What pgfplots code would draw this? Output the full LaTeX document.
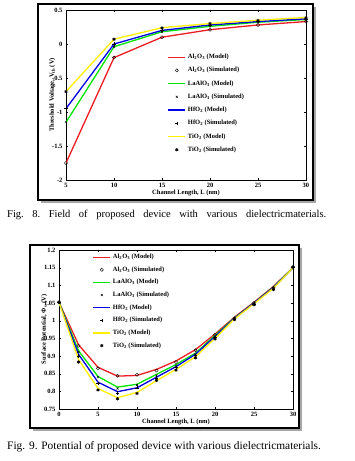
\documentclass[border=0pt]{standalone}
\usepackage{pgfplots}
\pgfplotsset{compat=1.18}
\usepackage{fontspec}
\setmainfont{Liberation Serif}
\definecolor{myred}{RGB}{237,28,36}
\definecolor{mygreen}{RGB}{0,230,0}
\definecolor{myblue}{RGB}{0,0,230}
\definecolor{myyellow}{RGB}{255,240,0}
\pgfplotsset{
  mystyle/.style={
    scale only axis, axis on top=false,
    tick align=inside, xtick pos=both, ytick pos=both,
    tick style={black, line width=0.3pt, major tick length=2pt},
    /pgf/number format/assume math mode=true,
    tick label style={font=\fontsize{6.5}{7}\selectfont\bfseries},
    label style={font=\fontsize{6.5}{7}\selectfont\bfseries},
    legend style={draw=none, fill=none, font=\fontsize{6.5}{7}\selectfont\bfseries, legend cell align=left},
  },
  model/.style={line width=1.3pt, mark=none, draw=#1, color=#1},
  simmark/.style={only marks, black, mark size=1.6pt, line width=0.4pt},
}
\begin{document}
\begin{tikzpicture}[x=1pt,y=1pt]
\path[use as bounding box] (0,0) rectangle (354,461);
% frames with shadow
\fill[black!35] (41,258) rectangle (316,454);
\draw[line width=2.5pt, fill=white] (38,261) rectangle (313,457);
\fill[black!35] (33,30) rectangle (302,213);
\draw[line width=2.5pt, fill=white] (30,33) rectangle (299,216);

\begin{axis}[mystyle, at={(66pt,281pt)}, anchor=south west, width=240pt, height=170pt,
  xmin=5, xmax=30, ymin=-2, ymax=0.5,
  xtick={5,10,15,20,25,30}, ytick={-2,-1.5,-1,-0.5,0,0.5},
  yticklabels={-2,-1.5,-1,-0.5,0,0.5},
  xlabel={Channel Length, L (nm)}, ylabel={Threshold Voltage, V\textsubscript{th} (V)},
  xlabel style={yshift=5pt}, ylabel style={yshift=-10pt},
  legend style={at={(0.41,0.765)}, anchor=north west, row sep=3.2pt},
]
\addplot[model=myred] coordinates {(5,-1.75)(10,-0.2)(15,0.1)(20,0.21)(25,0.28)(30,0.33)};
\addlegendentry{Al\textsubscript{2}O\textsubscript{3} (Model)}
\addplot[simmark, mark=o] coordinates {(5,-1.75)(10,-0.2)(15,0.1)(20,0.21)(25,0.28)(30,0.33)};
\addlegendentry{Al\textsubscript{2}O\textsubscript{3} (Simulated)}
\addplot[model=mygreen] coordinates {(5,-1.15)(10,-0.04)(15,0.18)(20,0.26)(25,0.32)(30,0.36)};
\addlegendentry{LaAlO\textsubscript{3} (Model)}
\addplot[simmark, mark=x, mark size=1.3pt] coordinates {(5,-1.15)(10,-0.04)(15,0.18)(20,0.26)(25,0.32)(30,0.36)};
\addlegendentry{LaAlO\textsubscript{3} (Simulated)}
\addplot[model=myblue] coordinates {(5,-0.95)(10,0.0)(15,0.2)(20,0.28)(25,0.33)(30,0.37)};
\addlegendentry{HfO\textsubscript{2} (Model)}
\addplot[simmark, mark=+] coordinates {(5,-0.95)(10,0.0)(15,0.2)(20,0.28)(25,0.33)(30,0.37)};
\addlegendentry{HfO\textsubscript{2} (Simulated)}
\addplot[model=myyellow] coordinates {(5,-0.7)(10,0.07)(15,0.24)(20,0.3)(25,0.35)(30,0.39)};
\addlegendentry{TiO\textsubscript{2} (Model)}
\addplot[simmark, mark=asterisk, line width=0.8pt] coordinates {(5,-0.7)(10,0.07)(15,0.235)(20,0.3)(25,0.345)(30,0.385)};
\addlegendentry{TiO\textsubscript{2} (Simulated)}
\end{axis}

\begin{axis}[mystyle, at={(59pt,52pt)}, anchor=south west, width=234pt, height=159pt,
  xmin=0, xmax=30, ymin=0.75, ymax=1.2,
  xtick={0,5,10,15,20,25,30}, ytick={0.75,0.8,0.85,0.9,0.95,1,1.05,1.1,1.15,1.2},
  yticklabels={0.75,0.8,0.85,0.9,0.95,1,1.05,1.1,1.15,1.2},
  xlabel={Channel Length, L (nm)}, ylabel={Surface Potential, Φ\textsubscript{s} (V)},
  xlabel style={yshift=5pt}, ylabel style={yshift=-10pt},
  legend style={at={(0.13,1.0)}, anchor=north west, row sep=2.6pt},
]
\addplot[model=myred] coordinates {(0,1.052)(2.5,0.932)(5,0.868)(7.5,0.843)(10,0.845)(12.5,0.862)(15,0.886)(17.5,0.918)(20,0.962)(22.5,1.01)(25,1.052)(27.5,1.097)(30,1.15)};
\addlegendentry{Al\textsubscript{2}O\textsubscript{3} (Model)}
\addplot[simmark, mark=o] coordinates {(0,1.052)(2.5,0.929)(5,0.865)(7.5,0.844)(10,0.847)(12.5,0.859)(15,0.883)(17.5,0.916)(20,0.96)(22.5,1.007)(25,1.05)(27.5,1.093)(30,1.152)};
\addlegendentry{Al\textsubscript{2}O\textsubscript{3} (Simulated)}
\addplot[model=mygreen] coordinates {(0,1.052)(2.5,0.915)(5,0.842)(7.5,0.812)(10,0.82)(12.5,0.848)(15,0.876)(17.5,0.908)(20,0.958)(22.5,1.008)(25,1.05)(27.5,1.095)(30,1.15)};
\addlegendentry{LaAlO\textsubscript{3} (Model)}
\addplot[simmark, mark=x, mark size=1.3pt] coordinates {(0,1.052)(2.5,0.912)(5,0.84)(7.5,0.808)(10,0.818)(12.5,0.845)(15,0.873)(17.5,0.905)(20,0.955)(22.5,1.006)(25,1.048)(27.5,1.092)(30,1.152)};
\addlegendentry{LaAlO\textsubscript{3} (Simulated)}
\addplot[model=myblue] coordinates {(0,1.052)(2.5,0.905)(5,0.826)(7.5,0.799)(10,0.81)(12.5,0.84)(15,0.87)(17.5,0.905)(20,0.955)(22.5,1.007)(25,1.05)(27.5,1.094)(30,1.15)};
\addlegendentry{HfO\textsubscript{2} (Model)}
\addplot[simmark, mark=+] coordinates {(0,1.052)(2.5,0.9)(5,0.822)(7.5,0.795)(10,0.81)(12.5,0.838)(15,0.867)(17.5,0.902)(20,0.952)(22.5,1.005)(25,1.047)(27.5,1.09)(30,1.152)};
\addlegendentry{HfO\textsubscript{2} (Simulated)}
\addplot[model=myyellow] coordinates {(0,1.052)(2.5,0.89)(5,0.808)(7.5,0.782)(10,0.797)(12.5,0.83)(15,0.862)(17.5,0.898)(20,0.95)(22.5,1.005)(25,1.048)(27.5,1.092)(30,1.15)};
\addlegendentry{TiO\textsubscript{2} (Model)}
\addplot[simmark, mark=asterisk, line width=0.8pt] coordinates {(0,1.052)(2.5,0.883)(5,0.804)(7.5,0.779)(10,0.794)(12.5,0.831)(15,0.86)(17.5,0.895)(20,0.948)(22.5,1.003)(25,1.045)(27.5,1.088)(30,1.152)};
\addlegendentry{TiO\textsubscript{2} (Simulated)}
\end{axis}

\node[anchor=west, font=\fontsize{10.5}{12}\selectfont, inner sep=0pt] at (7,246) {\frenchspacing\hbox to 319pt{Fig. 8. Field of proposed device with various dielectricmaterials.}};
\node[anchor=west, font=\fontsize{11.4}{13}\selectfont, inner sep=0pt] at (7,14) {Fig. 9. Potential of proposed device with various dielectricmaterials.};
\end{tikzpicture}
\end{document}
